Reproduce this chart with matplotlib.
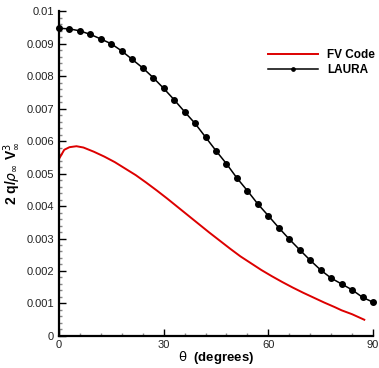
import matplotlib

matplotlib.use("Agg")
import matplotlib.pyplot as plt
from matplotlib.ticker import MultipleLocator, FormatStrFormatter

# FV Code (red line)
fv_theta = [0, 1.5, 3, 5, 7, 10, 13, 16, 19, 22, 25, 28, 31, 34, 37, 40,
            43, 46, 49, 52, 55, 58, 61, 64, 67, 70, 73, 76, 79, 81, 84, 87.5]
fv_q = [0.00545, 0.00573, 0.00581, 0.00584, 0.00580, 0.00567, 0.00552,
        0.00535, 0.00515, 0.00495, 0.00472, 0.00448, 0.00423, 0.00397,
        0.00371, 0.00345, 0.00319, 0.00294, 0.00269, 0.00245, 0.00224,
        0.00203, 0.00184, 0.00166, 0.00149, 0.00133, 0.00118, 0.00103,
        0.00089, 0.00079, 0.00067, 0.00050]

# LAURA (black line with dots), one point every 3 degrees
laura_theta = list(range(0, 91, 3))
laura_q = [0.00947, 0.00945, 0.00939, 0.00928, 0.00914, 0.00899, 0.00877,
           0.00851, 0.00825, 0.00795, 0.00762, 0.00727, 0.00690, 0.00654,
           0.00612, 0.00570, 0.00530, 0.00486, 0.00447, 0.00406, 0.00370,
           0.00333, 0.00298, 0.00265, 0.00233, 0.00203, 0.00178, 0.00160,
           0.00142, 0.00119, 0.00104]

plt.rcParams["font.family"] = ["Liberation Sans", "DejaVu Sans"]

fig = plt.figure(figsize=(3.79, 3.68), dpi=100)
ax = fig.add_axes([0.1557, 0.087, 0.8285, 0.883])

ax.plot(fv_theta, fv_q, color="#dd0000", lw=1.4, label="FV Code")
ax.plot(laura_theta, laura_q, color="black", lw=1.1, marker="o",
        markersize=4, clip_on=False, label="LAURA")

ax.set_xlim(0, 90)
ax.set_ylim(0, 0.01)
ax.xaxis.set_major_locator(MultipleLocator(30))
ax.xaxis.set_minor_locator(MultipleLocator(6))
ax.yaxis.set_major_locator(MultipleLocator(0.001))
ax.yaxis.set_minor_locator(MultipleLocator(0.0002))
ax.yaxis.set_major_formatter(FormatStrFormatter("%g"))

for side in ("top", "right"):
    ax.spines[side].set_visible(False)
for side in ("left", "bottom"):
    ax.spines[side].set_linewidth(1.6)

ax.tick_params(which="both", direction="in", labelsize=8, width=1.0,
               colors="black", labelcolor="#222222")
ax.tick_params(axis="x", pad=3)
ax.tick_params(which="major", length=5)
ax.tick_params(which="minor", length=2.5, color="#888888")

ax.set_xlabel(r"$\mathrm{\theta}$  (degrees)", fontsize=9.5,
              fontweight="bold", labelpad=-1)
ax.set_ylabel(r"2 q/$\rho_\infty$ V$^3_\infty$", fontsize=10,
              fontweight="bold", labelpad=3)

leg = ax.legend(loc="upper right", bbox_to_anchor=(1.04, 0.915),
                frameon=False, fontsize=8.5, handlelength=4.2,
                markerscale=0.6, labelspacing=0.2, handletextpad=0.8)
for t in leg.get_texts():
    t.set_fontweight("bold")

fig.savefig("out.png", dpi=100)
